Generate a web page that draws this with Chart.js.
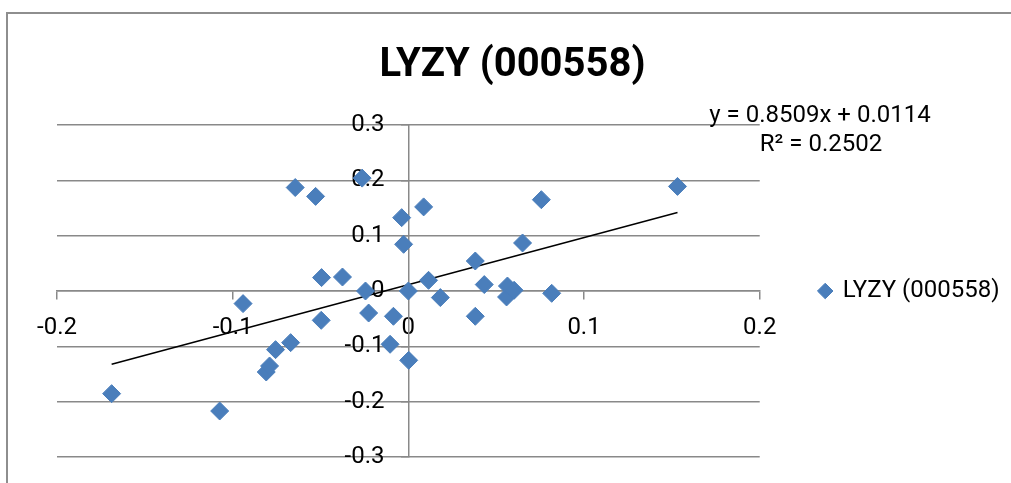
<!DOCTYPE html>
<html>
<head>
<meta charset="utf-8">
<title>LYZY (000558)</title>
<script src="https://cdn.jsdelivr.net/npm/chart.js@4/dist/chart.umd.min.js"></script>
<style>
  html, body { margin: 0; padding: 0; background: #fff; overflow: hidden; }
  #frame {
    position: absolute; left: 6px; top: 12px; width: 1100px; height: 600px;
    border-left: 2px solid #8e8e8e; border-top: 2px solid #8e8e8e;
  }
  #chart { position: absolute; left: 0; top: 0; }
</style>
</head>
<body>
<div id="frame"></div>
<canvas id="chart" width="1011" height="483"></canvas>
<script>
// Scatter data (market return vs stock return)
const seriesName = 'LYZY (000558)';
const xValues = [
  -0.1689, -0.1074, -0.0941, -0.0809, -0.0790, -0.0756, -0.0670, -0.0644, -0.0528,
  -0.0496, -0.0494, -0.0375, -0.0263, -0.0244, -0.0226, -0.0104, -0.0085, -0.0038,
  -0.0027, 0.0000, 0.0002, 0.0087, 0.0115, 0.0182, 0.0381, 0.0381, 0.0432,
  0.0559, 0.0564, 0.0602, 0.0650, 0.0757, 0.0816, 0.1532
];
const yValues = [
  -0.1855, -0.2169, -0.0228, -0.1464, -0.1355, -0.1060, -0.0933, 0.1870, 0.1710,
  -0.0530, 0.0242, 0.0253, 0.2040, 0.0000, -0.0398, -0.0963, -0.0457, 0.1326,
  0.0844, 0.0000, -0.1253, 0.1520, 0.0193, -0.0119, 0.0542, -0.0457, 0.0116,
  -0.0108, 0.0090, 0.0013, 0.0868, 0.1650, -0.0042, 0.1890
];

// Linear trendline as printed on the chart
const slope = 0.8509;
const intercept = 0.0114;
const equationLines = ['y = 0.8509x + 0.0114', 'R\u00b2 = 0.2502'];

const xTicks = [-0.2, -0.1, 0, 0.1, 0.2];
const yTicks = [-0.3, -0.2, -0.1, 0, 0.1, 0.2, 0.3];

const points = xValues.map((x, i) => ({ x, y: yValues[i] }));
const xMin = Math.min(...xValues);
const xMax = Math.max(...xValues);
const trendPoints = [xMin, xMax].map(x => ({ x, y: slope * x + intercept }));

const gridColor = '#898989';
const markerColor = '#4a7ebb';

Chart.defaults.font.family = 'Roboto';
Chart.defaults.color = '#000';

// Title and trendline label, placed where Excel put them
const textPlugin = {
  id: 'excelText',
  afterDraw(chart) {
    const ctx = chart.ctx;
    ctx.save();
    ctx.fillStyle = '#000';
    ctx.textAlign = 'center';
    ctx.textBaseline = 'middle';
    ctx.font = 'bold 40px Roboto';
    ctx.fillText(seriesName, 512.5, 66);
    ctx.font = '24px Roboto';
    ctx.fillText(equationLines[0], 820, 116);
    ctx.fillText(equationLines[1], 821, 145);
    ctx.restore();
  }
};

new Chart(document.getElementById('chart'), {
  type: 'scatter',
  data: {
    datasets: [
      {
        label: seriesName,
        data: points,
        pointStyle: 'rectRot',
        pointRadius: 9,
        pointHoverRadius: 9,
        backgroundColor: markerColor,
        borderColor: markerColor,
        borderWidth: 1
      },
      {
        type: 'line',
        label: 'trend',
        data: trendPoints,
        borderColor: '#000',
        borderWidth: 1.5,
        pointRadius: 0,
        fill: false
      }
    ]
  },
  options: {
    responsive: false,
    animation: false,
    layout: {
      padding: { left: 57, top: 125, right: 1.5, bottom: 26 }
    },
    plugins: {
      title: { display: false },
      tooltip: { enabled: false },
      legend: {
        display: true,
        position: 'right',
        maxWidth: 400,
        labels: {
          usePointStyle: true,
          boxWidth: 11,
          boxHeight: 11,
          padding: 60,
          font: { size: 24 },
          color: '#000',
          filter: item => item.datasetIndex === 0
        }
      }
    },
    scales: {
      x: {
        type: 'linear',
        min: -0.2,
        max: 0.2,
        position: { y: 0 },
        afterBuildTicks: scale => { scale.ticks = xTicks.map(v => ({ value: v })); },
        ticks: {
          font: { size: 24 },
          color: '#000',
          padding: 15,
          callback: v => String(Number(v.toFixed(1)))
        },
        grid: {
          drawOnChartArea: false,
          drawTicks: true,
          tickLength: 8,
          color: gridColor,
          lineWidth: 1.5
        },
        border: { display: true, color: gridColor, width: 1.5 }
      },
      y: {
        type: 'linear',
        min: -0.3,
        max: 0.3,
        position: { x: 0 },
        afterBuildTicks: scale => { scale.ticks = yTicks.map(v => ({ value: v })); },
        ticks: {
          font: { size: 24 },
          color: '#000',
          // a y axis pinned at x = 0 ignores ticks.padding, so pad with spaces
          callback: v => String(Number(v.toFixed(1))) + '    '
        },
        grid: {
          drawOnChartArea: true,
          drawTicks: true,
          tickLength: 7,
          color: gridColor,
          lineWidth: 1.5
        },
        border: { display: true, color: gridColor, width: 1.5 }
      }
    }
  },
  plugins: [textPlugin]
});
</script>
</body>
</html>
